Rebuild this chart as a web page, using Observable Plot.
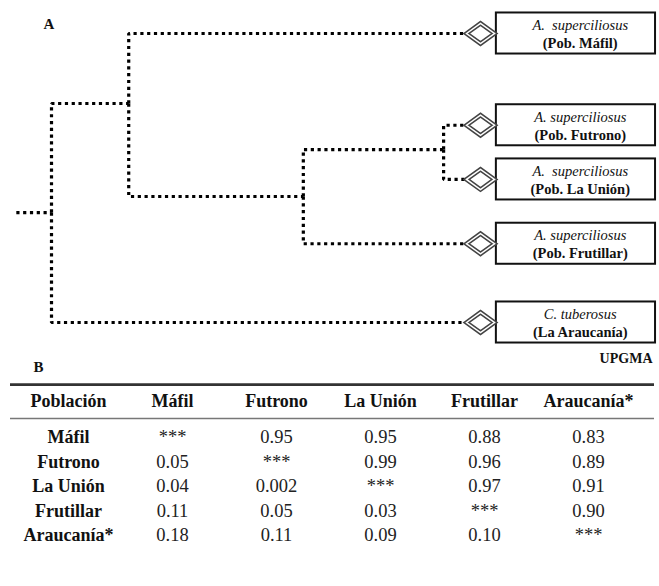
<!DOCTYPE html>
<html><head><meta charset="utf-8">
<script src="https://cdn.jsdelivr.net/npm/d3@7"></script>
<script src="https://cdn.jsdelivr.net/npm/@observablehq/plot@0.6"></script>
<style>
body{margin:0;background:#fff}
#chart{width:659px}
#chart svg{display:block;background:#fff}
</style>
</head><body><div id="chart"></div>
<script>
// ---------- Data: dendrogram (UPGMA) ----------
const leafNames    = ["Máfil", "Futrono", "La Unión", "Frutillar", "Araucanía"];
const leafSpecies  = ["A.\u00a0\u00a0superciliosus", "A. superciliosus", "A.\u00a0\u00a0superciliosus", "A. superciliosus", "C. tuberosus"];
const leafSites    = ["(Pob. Máfil)", "(Pob. Futrono)", "(Pob. La Unión)", "(Pob. Frutillar)", "(La Araucanía)"];
const leafSlots    = [0, 1.27, 2.02, 2.91, 4];          // vertical slot of each leaf, as drawn
const clusterNames   = ["FL", "FLF", "MFLF", "root"];
const clusterHeights = [0.086, 0.413, 0.82, 1.0];       // relative join heights
const clusterSlots   = [1.606, 2.256, 0.969, 2.478];
const edgeParents  = ["FL", "FL", "FLF", "FLF", "MFLF", "MFLF", "root", "root"];
const edgeChildren = ["Futrono", "La Unión", "FL", "Frutillar", "Máfil", "FLF", "MFLF", "Araucanía"];
const rootStemHeight = 1.082;

// ---------- Data: table (B) ----------
const populations = ["Máfil", "Futrono", "La Unión", "Frutillar", "Araucanía*"];
const firstColumn = "Población";
const rowMafil     = [null, 0.95, 0.95, 0.88, 0.83];
const rowFutrono   = [0.05, null, 0.99, 0.96, 0.89];
const rowLaUnion   = [0.04, 0.002, null, 0.97, 0.91];
const rowFrutillar = [0.11, 0.05, 0.03, null, 0.90];
const rowAraucania = [0.18, 0.11, 0.09, 0.10, null];

// ---------- Build ----------
const serif = "Liberation Serif, Times New Roman, serif";
const nodes = new Map();
leafNames.forEach((n, i) => nodes.set(n, {name: n, h: 0, slot: leafSlots[i]}));
clusterNames.forEach((n, i) => nodes.set(n, {name: n, h: clusterHeights[i], slot: clusterSlots[i]}));
const edges = edgeParents.map((p, i) => {
  const a = nodes.get(p), b = nodes.get(edgeChildren[i]);
  return {x1: a.h, y1: a.slot, x2: b.h, y2: b.slot};
});
const root = nodes.get("root");
edges.push({x1: rootStemHeight, y1: root.slot, x2: root.h, y2: root.slot});
const leaves = leafNames.map((n, i) => ({h: 0, slot: leafSlots[i], species: leafSpecies[i], site: leafSites[i]}));

const rhombus = {
  draw(ctx, size) {
    const r = Math.sqrt(size / Math.PI);
    const w = r, h = r * 0.72;
    ctx.moveTo(-w, 0); ctx.lineTo(0, -h); ctx.lineTo(w, 0); ctx.lineTo(0, h); ctx.closePath();
  }
};
const BOX_X1 = -0.037, BOX_X2 = -0.408, BOX_HALF = 0.284;
const LABEL_X = (BOX_X1 + BOX_X2) / 2 - 0.01;

const tree = Plot.plot({
  width: 659, height: 350, margin: 0,
  x: {domain: [0, 1], range: [480, 51], axis: null},
  y: {domain: [0, 4], range: [33, 322], axis: null},
  marks: [
    Plot.link(edges, {x1: "x1", y1: "y1", x2: "x2", y2: "y2", curve: "step-before",
      stroke: "#000", strokeWidth: 3.2, strokeDasharray: "3.2,3.6"}),
    Plot.rect(leaves, {x1: BOX_X1, x2: BOX_X2, y1: d => d.slot - BOX_HALF, y2: d => d.slot + BOX_HALF,
      fill: "white", stroke: "#111", strokeWidth: 2}),
    Plot.dot(leaves, {x: "h", y: "slot", r: 14, symbol: rhombus, fill: "white", stroke: "#444", strokeWidth: 4.6}),
    Plot.dot(leaves, {x: "h", y: "slot", r: 14, symbol: rhombus, fill: "none", stroke: "white", strokeWidth: 1.5}),
    Plot.text(leaves, {x: LABEL_X, y: "slot", text: "species", dy: -8, fontStyle: "italic",
      fontSize: 14.5, fontFamily: serif, fill: "#111"}),
    Plot.text(leaves, {x: LABEL_X, y: "slot", text: "site", dy: 10, fontWeight: "bold",
      fontSize: 14.5, fontFamily: serif, fill: "#111"}),
    Plot.text(["A"], {text: d => d, frameAnchor: "top-left", dx: 43, dy: 28, lineAnchor: "bottom",
      textAnchor: "start", fontWeight: "bold", fontSize: 15, fontFamily: serif, fill: "#111"})
  ]
});

const columns = [firstColumn, ...populations];
const rows = [rowMafil, rowFutrono, rowLaUnion, rowFrutillar, rowAraucania];
const fmt = v => v == null ? "***" : (v < 0.01 ? v.toFixed(3) : v.toFixed(2));
const cells = rows.flatMap((r, i) => r.map((v, j) => ({row: i + 1, col: populations[j], text: fmt(v)})));
const HEADER_ROW = -0.47, TOP_RULE = -1.16, HEADER_RULE = 0.22;

const table = Plot.plot({
  width: 659, height: 236, margin: 0,
  x: {type: "point", domain: columns, range: [15, 641], padding: 0.5, axis: null},
  y: {domain: [0, 5], range: [62.5, 185], axis: null},
  marks: [
    Plot.ruleY([TOP_RULE], {stroke: "#333", strokeWidth: 2.6, insetLeft: 10, insetRight: 5}),
    Plot.ruleY([HEADER_RULE], {stroke: "#777", strokeWidth: 1.5, insetLeft: 10, insetRight: 5}),
    Plot.text(columns, {x: d => d, y: () => HEADER_ROW, text: d => d, fontWeight: "bold",
      fontSize: 18, fontFamily: serif, fill: "#111"}),
    Plot.text(populations, {x: () => firstColumn, y: (d, i) => i + 1, text: d => d, fontWeight: "bold",
      fontSize: 18, fontFamily: serif, fill: "#111"}),
    Plot.text(cells, {x: "col", y: "row", text: "text", fontSize: 18.5, fontFamily: serif, fill: "#222"}),
    Plot.text(["B"], {text: d => d, frameAnchor: "top-left", dx: 33, dy: 21, lineAnchor: "bottom",
      textAnchor: "start", fontWeight: "bold", fontSize: 15, fontFamily: serif, fill: "#111"}),
    Plot.text(["UPGMA"], {text: d => d, frameAnchor: "top-right", dx: -7, dy: 12, lineAnchor: "bottom",
      textAnchor: "end", fontWeight: "bold", fontSize: 14, fontFamily: serif, fill: "#111"})
  ]
});

document.getElementById("chart").append(tree, table);
</script>
</body></html>
